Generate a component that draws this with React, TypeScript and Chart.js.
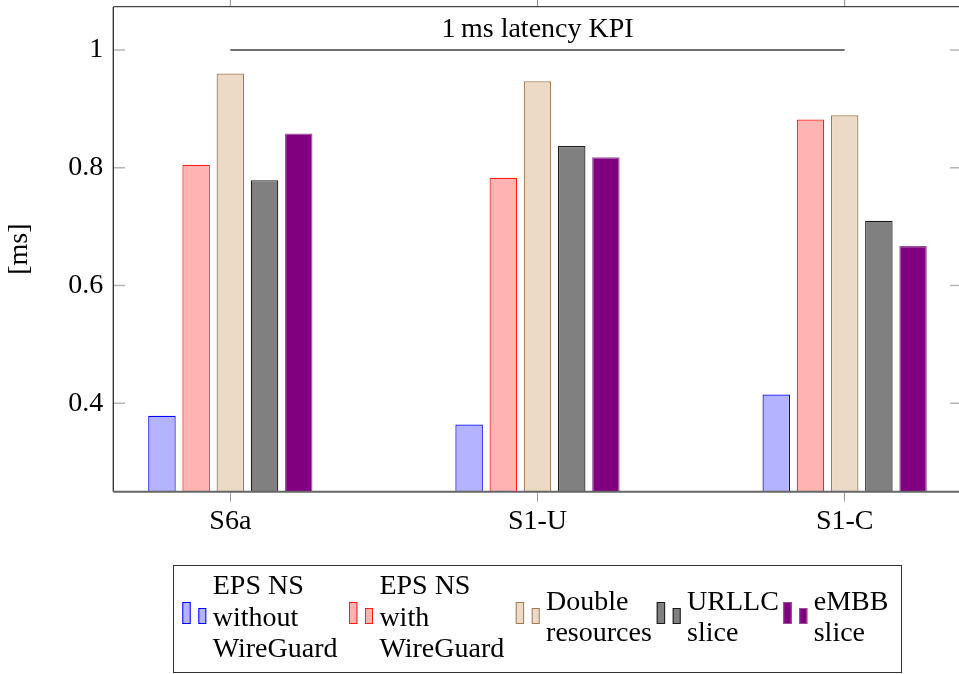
import { useEffect, useRef } from 'react';
import { Chart, registerables } from 'chart.js';

Chart.register(...registerables);

// ---- data ----
const categories = ['S6a', 'S1-U', 'S1-C'];
const seriesNames = ['EPS NS without WireGuard', 'EPS NS with WireGuard', 'Double resources', 'URLLC slice', 'eMBB slice'];
const epsWithout = [0.379, 0.364, 0.415];
const epsWith = [0.805, 0.783, 0.882];
const doubleResources = [0.960, 0.947, 0.889];
const urllcSlice = [0.779, 0.837, 0.710];
const embbSlice = [0.858, 0.818, 0.667];
const yTicks = [0.4, 0.6, 0.8, 1];
const yTickLabels = ['0.4', '0.6', '0.8', '1'];
const yAxisTitle = '[ms]';
const kpiValue = 1;
const kpiFrom = 0;
const kpiTo = 2;
const kpiLabel = '1\u2009ms latency KPI';
const legendLines = [
  ['EPS NS', 'without', 'WireGuard'],
  ['EPS NS', 'with', 'WireGuard'],
  ['Double', 'resources'],
  ['URLLC', 'slice'],
  ['eMBB', 'slice'],
];

// ---- styles / layout ----
const FAMILY = "'Liberation Serif', 'DejaVu Serif', serif";
const FONT_SIZE = 28;
const fills = ['#b3b3ff', '#ffb3b3', '#ecd9c6', '#808080', '#800080'];
const borders = ['#0000ff', '#ff1a1a', '#a07a55', '#1a1a1a', '#9a4d9a'];
const legendEntryLeft = [182.3, 349, 515.7, 656.7, 783.3];
const CW = 975;
const CH = 674;
const AREA_LEFT = 113.3;
const AREA_RIGHT = 961.7;
const AREA_TOP = 6.7;
const AREA_BOTTOM = 491.7;

const framePlugin = {
  id: 'frameAndLegend',
  afterDraw(chart: any) {
    const ctx = chart.ctx as CanvasRenderingContext2D;
    const xs = chart.scales.x;
    const ys = chart.scales.y;
    const ca = chart.chartArea;
    ctx.save();
    // y tick marks (inward, both sides)
    ctx.strokeStyle = '#b5b5b5';
    ctx.lineWidth = 1.5;
    ys.ticks.forEach((t: any) => {
      const py = ys.getPixelForValue(t.value);
      ctx.beginPath();
      ctx.moveTo(ca.left, py);
      ctx.lineTo(ca.left + 11.7, py);
      ctx.moveTo(ca.right - 11.7, py);
      ctx.lineTo(ca.right, py);
      ctx.stroke();
    });
    // x tick marks on top (outward)
    ctx.strokeStyle = '#888';
    ctx.lineWidth = 1;
    xs.ticks.forEach((t: any) => {
      const px = xs.getPixelForValue(t.value);
      ctx.beginPath();
      ctx.moveTo(px, 0);
      ctx.lineTo(px, ca.top);
      ctx.stroke();
    });
    // frame
    ctx.strokeStyle = '#2a2a2a';
    ctx.lineWidth = 1.3;
    ctx.beginPath();
    ctx.moveTo(ca.left, ca.bottom);
    ctx.lineTo(ca.left, ca.top);
    ctx.stroke();
    ctx.strokeStyle = '#444';
    ctx.beginPath();
    ctx.moveTo(ca.left, ca.top);
    ctx.lineTo(ca.right, ca.top);
    ctx.stroke();
    ctx.strokeStyle = '#666';
    ctx.lineWidth = 2;
    ctx.beginPath();
    ctx.moveTo(ca.left, ca.bottom);
    ctx.lineTo(ca.right, ca.bottom);
    ctx.stroke();

    // KPI label
    ctx.font = `${FONT_SIZE}px ${FAMILY}`;
    ctx.fillStyle = '#000';
    ctx.textAlign = 'center';
    ctx.textBaseline = 'alphabetic';
    ctx.fillText(kpiLabel, xs.getPixelForValue((kpiFrom + kpiTo) / 2), ys.getPixelForValue(kpiValue) - 13.3);

    // legend box
    ctx.strokeStyle = '#333';
    ctx.lineWidth = 1;
    ctx.strokeRect(173.5, 565.5, 728, 107);
    ctx.textAlign = 'left';
    const ds = chart.data.datasets;
    legendLines.forEach((lines, i) => {
      const x = legendEntryLeft[i];
      ctx.fillStyle = ds[i].backgroundColor;
      ctx.strokeStyle = ds[i].borderColor;
      ctx.lineWidth = 1;
      ctx.fillRect(x, 602, 8.4, 22);
      ctx.strokeRect(x + 0.5, 602.5, 7.4, 21);
      ctx.fillRect(x + 16, 608, 8, 16);
      ctx.strokeRect(x + 16.5, 608.5, 7, 15);
      const tx = x + 30.4;
      ctx.fillStyle = '#000';
      const n = lines.length;
      lines.forEach((ln, j) => {
        const by = 625.6 + (j - (n - 1) / 2) * 31.3;
        ctx.fillText(ln, tx, by);
      });
    });
    ctx.restore();
  },
};

export default function App() {
  const ref = useRef<HTMLCanvasElement | null>(null);
  useEffect(() => {
    if (!ref.current) return;
    const series = [epsWithout, epsWith, doubleResources, urllcSlice, embbSlice];
    const font = { family: FAMILY, size: FONT_SIZE, lineHeight: 1.2 };
    const chart = new Chart(ref.current, {
      type: 'bar',
      data: {
        datasets: [
          ...series.map((vals, i) => ({
            type: 'bar' as const,
            label: seriesNames[i],
            data: vals.map((v, k) => ({ x: k, y: v })),
            backgroundColor: fills[i],
            borderColor: borders[i],
            borderWidth: 1.2,
            categoryPercentage: 0.5566,
            barPercentage: 0.804,
          })),
          {
            type: 'line' as const,
            label: 'KPI',
            data: [{ x: kpiFrom, y: kpiValue }, { x: kpiTo, y: kpiValue }],
            borderColor: '#6e6e6e',
            borderWidth: 2,
            pointRadius: 0,
            fill: false,
          } as any,
        ],
      },
      options: {
        responsive: false,
        animation: false,
        layout: { padding: { left: 0, top: AREA_TOP, right: CW - AREA_RIGHT, bottom: 0 } },
        plugins: { legend: { display: false }, tooltip: { enabled: false } },
        scales: {
          x: {
            type: 'linear',
            min: -0.381,
            max: 2.381,
            offset: false,
            afterBuildTicks: (s: any) => {
              s.ticks = categories.map((_, i) => ({ value: i }));
            },
            afterFit: (s: any) => {
              s.height = CH - AREA_BOTTOM;
              s.paddingLeft = 0;
              s.paddingRight = 0;
            },
            ticks: {
              callback: (v: any) => categories[v as number] ?? '',
              font,
              color: '#000',
              padding: 3.5,
              maxRotation: 0,
              autoSkip: false,
            },
            grid: {
              display: true,
              drawOnChartArea: false,
              drawTicks: true,
              tickLength: 10,
              color: '#9a9a9a',
              offset: false,
              lineWidth: 1,
            },
            border: { display: false },
          },
          y: {
            type: 'linear',
            min: 0.25,
            max: 1.0735,
            afterBuildTicks: (s: any) => {
              s.ticks = yTicks.map((v) => ({ value: v }));
            },
            afterFit: (s: any) => {
              s.width = AREA_LEFT;
              s.paddingTop = 0;
              s.paddingBottom = 0;
            },
            ticks: {
              callback: (v: any) => yTickLabels[yTicks.indexOf(v as number)] ?? '',
              font,
              color: '#000',
              padding: 10,
            },
            grid: { display: false, drawTicks: false, tickLength: 0 },
            border: { display: false },
            title: {
              display: true,
              text: yAxisTitle,
              color: '#000',
              font: { family: FAMILY, size: FONT_SIZE, lineHeight: 1 },
              padding: { top: 6, bottom: 0 },
            },
          },
        },
      },
      plugins: [framePlugin],
    } as any);
    return () => chart.destroy();
  }, []);
  return (
    <div style={{ position: 'fixed', left: 0, top: 0, width: 959, height: 674, overflow: 'hidden', background: '#fff' }}>
      <canvas ref={ref} width={CW} height={CH} style={{ display: 'block' }} />
    </div>
  );
}
